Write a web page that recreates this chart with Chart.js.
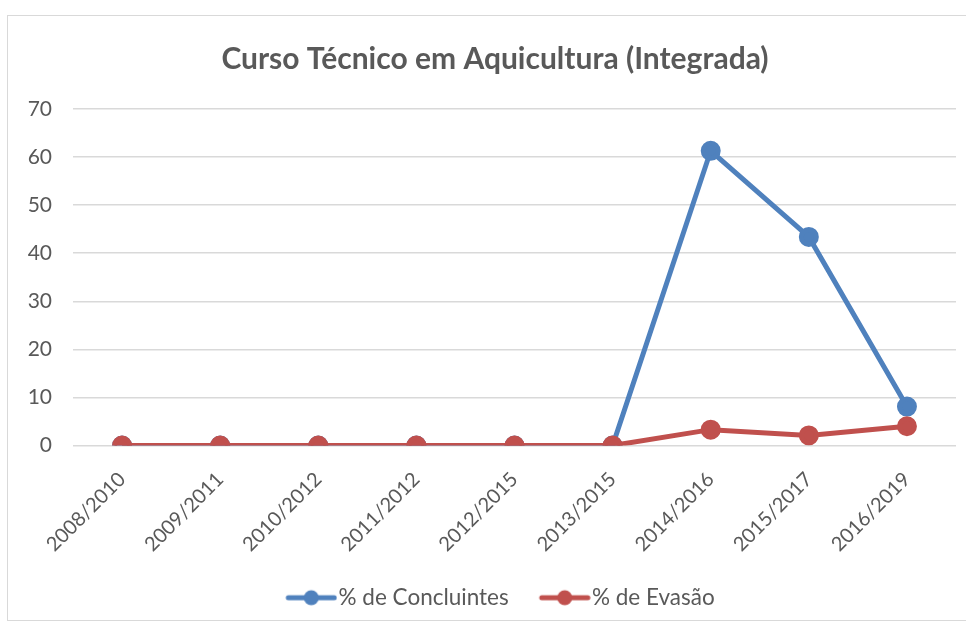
<!DOCTYPE html>
<html>
<head>
<meta charset="utf-8">
<script src="https://cdn.jsdelivr.net/npm/chart.js@4"></script>
<style>
  html, body { margin: 0; padding: 0; background: #fff; overflow: hidden; }
  #box {
    position: absolute; left: 7px; top: 15px;
    width: 966px; height: 606px;
    border: 1px solid #d9d9d9; box-sizing: border-box;
  }
</style>
</head>
<body>
<div id="box"><canvas id="c"></canvas></div>
<script>
const periods = ['2008/2010', '2009/2011', '2010/2012', '2011/2012', '2012/2015', '2013/2015', '2014/2016', '2015/2017', '2016/2019'];
const concluintes = [0, 0, 0, 0, 0, 0, 61.3, 43.4, 8.1];
const evasao = [0, 0, 0, 0, 0, 0, 3.3, 2.1, 4.0];

const blue = '#4f81bd';
const red = '#c0504d';
const grey = '#595959';

// legend marker: short line with a dot, shifted right inside a wider canvas
// so it sits closer to its label text
function marker(color) {
    const cv = document.createElement('canvas');
    cv.width = 72; cv.height = 18;
    const g = cv.getContext('2d');
    g.strokeStyle = color; g.lineWidth = 5; g.lineCap = 'round';
    g.beginPath(); g.moveTo(23, 9); g.lineTo(69, 9); g.stroke();
    g.fillStyle = color;
    g.beginPath(); g.arc(46, 9, 7.5, 0, Math.PI * 2); g.fill();
    return cv;
}
const markers = [marker(blue), marker(red)];

Chart.defaults.font.family = 'Lato, "Open Sans", sans-serif';
Chart.defaults.color = grey;

new Chart(document.getElementById('c'), {
    type: 'line',
    data: {
        labels: periods,
        datasets: [{
            label: '% de Concluintes',
            data: concluintes,
            borderColor: blue,
            backgroundColor: blue,
            borderWidth: 5,
            pointRadius: 7.5,
            pointHoverRadius: 7.5,
            tension: 0,
            order: 1
        }, {
            label: '% de Evasão',
            data: evasao,
            borderColor: red,
            backgroundColor: red,
            borderWidth: 5,
            pointRadius: 7.5,
            pointHoverRadius: 7.5,
            tension: 0,
            order: 0
        }]
    },
    options: {
        responsive: true,
        maintainAspectRatio: false,
        animation: false,
        layout: { padding: { left: 20, right: 10, top: 0, bottom: 1 } },
        scales: {
            y: {
                min: 0, max: 70,
                ticks: { stepSize: 10, font: { size: 21 }, color: grey, padding: 21 },
                grid: { color: '#d9d9d9', lineWidth: 1.5, drawTicks: false },
                border: { display: false },
                afterFit(s) { s.width = 45; }
            },
            // empty spacer on the right edge of the plot
            y2: {
                position: 'right',
                grid: { display: false },
                ticks: { display: false },
                border: { display: false },
                afterFit(s) { s.width = 6; }
            },
            x: {
                offset: true,
                ticks: { minRotation: 45, maxRotation: 45, font: { size: 20 }, color: grey, padding: 22 },
                grid: { display: false, drawTicks: false },
                border: { display: false },
                afterFit(s) { s.height -= 12; }
            }
        },
        plugins: {
            title: {
                display: true,
                text: 'Curso Técnico em Aquicultura (Integrada)',
                font: { size: 30, weight: 'bold' },
                color: grey,
                padding: { top: 25, bottom: 32 }
            },
            legend: {
                position: 'bottom',
                labels: {
                    usePointStyle: true,
                    pointStyleWidth: 52,
                    font: { size: 22.5 },
                    color: grey,
                    padding: 20,
                    generateLabels(chart) {
                        const items = Chart.defaults.plugins.legend.labels.generateLabels(chart);
                        items.sort((a, b) => a.datasetIndex - b.datasetIndex);
                        items.forEach(it => { it.pointStyle = markers[it.datasetIndex]; });
                        return items;
                    }
                }
            },
            tooltip: { enabled: false }
        }
    }
});
</script>
</body>
</html>
